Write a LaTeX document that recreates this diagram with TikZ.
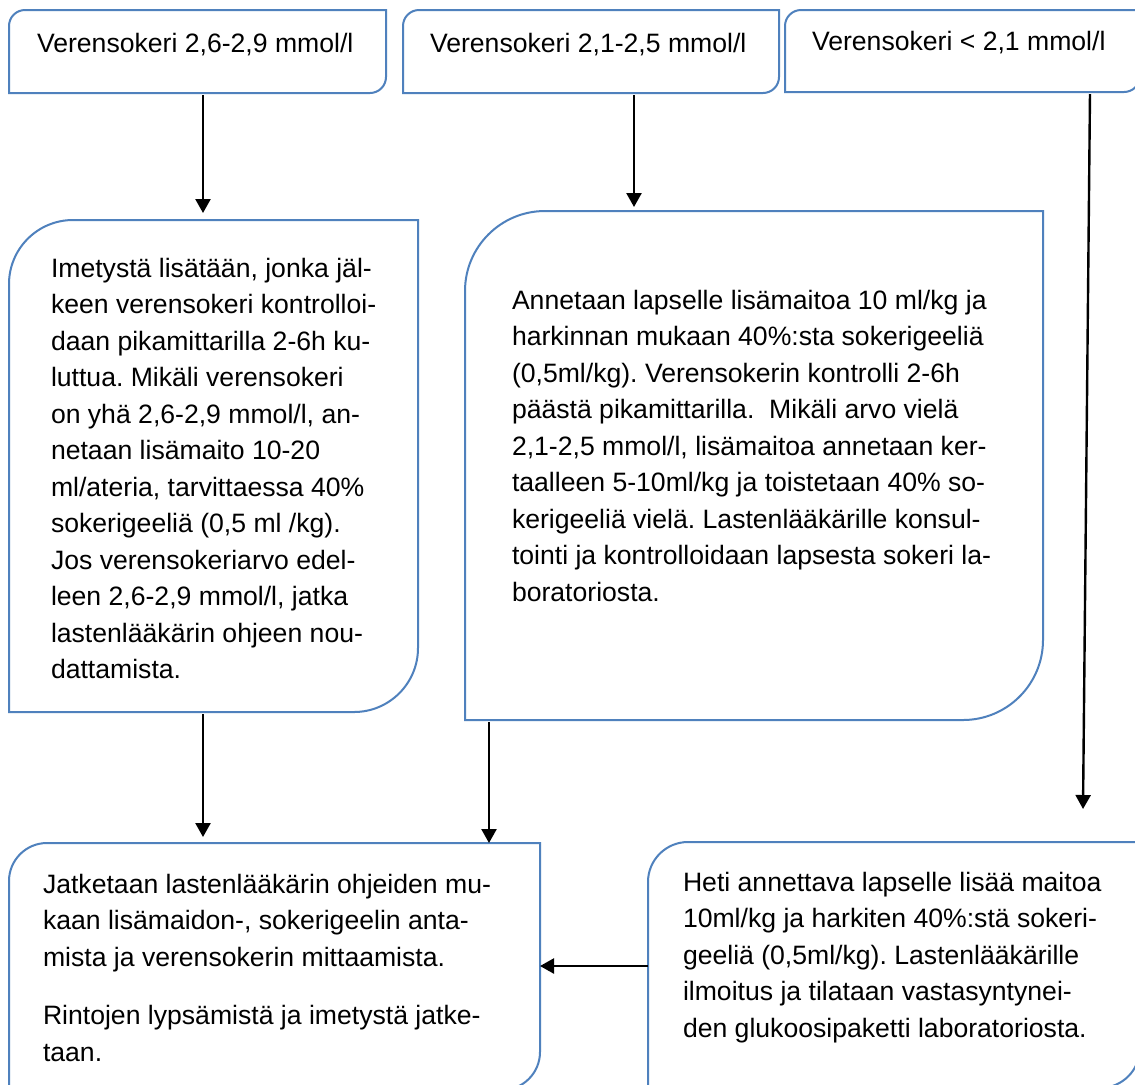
\documentclass[tikz,border=0pt]{standalone}
\usepackage{fontspec}
\setmainfont{Liberation Sans}
\usetikzlibrary{arrows.meta,fit,calc}
\definecolor{boxblue}{RGB}{79,129,189}
\tikzset{
  boxline/.style={draw=boxblue, line width=1pt},
  boxnode/.style={inner sep=0pt, outer sep=0pt, draw=none, rectangle},
  txt/.style={anchor=north west, inner sep=0pt, outer sep=0pt, align=left,
    font=\fontsize{13.3pt}{18.25pt}\selectfont\frenchspacing},
  arr/.style={draw=black, line width=1.2pt, -{Triangle[length=7pt,width=7.5pt]}},
}
\newcommand\dbox[2]{%
  \draw[boxline] (#1.south west) -- ([yshift=-#2]#1.north west)
    arc[start angle=180,end angle=90,radius=#2] -- (#1.north east)
    -- ([yshift=#2]#1.south east)
    arc[start angle=0,end angle=-90,radius=#2] -- cycle;}
\begin{document}
\frenchspacing
\begin{tikzpicture}[x=0.5pt,y=-0.5pt]
\useasboundingbox (0,0) rectangle (1135,1084);
\clip (0,0) rectangle (1135,1084);
\fill[white] (0,0) rectangle (1135,1084);

% box corners
\coordinate (b1nw) at (9,10);    \coordinate (b1se) at (386,93);
\coordinate (b2nw) at (403,10);  \coordinate (b2se) at (779,93);
\coordinate (b3nw) at (785,10);  \coordinate (b3se) at (1140,92);
\coordinate (b4nw) at (9,220);   \coordinate (b4se) at (418,712);
\coordinate (b5nw) at (465,211); \coordinate (b5se) at (1043,720);
\coordinate (b6nw) at (648,842); \coordinate (b6se) at (1140,1088);
\coordinate (b7nw) at (9,843);   \coordinate (b7se) at (540,1090);

\node[boxnode, fit=(b1nw)(b1se)] (b1) {};
\node[boxnode, fit=(b2nw)(b2se)] (b2) {};
\node[boxnode, fit=(b3nw)(b3se)] (b3) {};
\node[boxnode, fit=(b4nw)(b4se)] (b4) {};
\node[boxnode, fit=(b5nw)(b5se)] (b5) {};
\node[boxnode, fit=(b6nw)(b6se)] (b6) {};
\node[boxnode, fit=(b7nw)(b7se)] (b7) {};

\dbox{b1}{8pt}
\dbox{b2}{8pt}
\dbox{b3}{8pt}
\dbox{b4}{32pt}
\dbox{b5}{40pt}
\dbox{b6}{20pt}
\dbox{b7}{19pt}

% texts
\node[txt] (t1) at (37,33) {Verensokeri 2,6-2,9 mmol/l};
\node[txt] (t2) at (430,33) {Verensokeri 2,1-2,5 mmol/l};
\node[txt] (t3) at (812,31) {Verensokeri < 2,1 mmol/l};

\node[txt] (t4) at (51,258) {Imetystä lisätään, jonka jäl-\\
keen verensokeri kontrolloi-\\
daan pikamittarilla 2-6h ku-\\
luttua. Mikäli verensokeri\\
on yhä 2,6-2,9 mmol/l, an-\\
netaan lisämaito 10-20\\
ml/ateria, tarvittaessa 40\%\\
sokerigeeliä (0,5 ml /kg).\\
Jos verensokeriarvo edel-\\
leen 2,6-2,9 mmol/l, jatka\\
lastenlääkärin ohjeen nou-\\
dattamista.};

\node[txt] (t5) at (512,290) {Annetaan lapselle lisämaitoa 10 ml/kg ja\\
harkinnan mukaan 40\%:sta sokerigeeliä\\
(0,5ml/kg). Verensokerin kontrolli 2-6h\\
päästä pikamittarilla.\ \ Mikäli arvo vielä\\
2,1-2,5 mmol/l, lisämaitoa annetaan ker-\\
taalleen 5-10ml/kg ja toistetaan 40\% so-\\
kerigeeliä vielä. Lastenlääkärille konsul-\\
tointi ja kontrolloidaan lapsesta sokeri la-\\
boratoriosta.};

\node[txt] (t7) at (43,874) {Jatketaan lastenlääkärin ohjeiden mu-\\
kaan lisämaidon-, sokerigeelin anta-\\
mista ja verensokerin mittaamista.\\[11pt]
Rintojen lypsämistä ja imetystä jatke-\\
taan.};

\node[txt] (t6) at (683,872) {Heti annettava lapselle lisää maitoa\\
10ml/kg ja harkiten 40\%:stä sokeri-\\
geeliä (0,5ml/kg). Lastenlääkärille\\
ilmoitus ja tilataan vastasyntynei-\\
den glukoosipaketti laboratoriosta.};

% connectors
\coordinate (xa1) at (203,0);
\coordinate (xa2) at (634,0);
\coordinate (xa3) at (1090,0);
\coordinate (xa5) at (489,0);
\coordinate (ya6) at (0,966);
\coordinate (a3end) at (1083,809);

\draw[arr, shorten <=1pt, shorten >=3.5pt] (b1.south -| xa1) -- (b4.north -| xa1);
\draw[arr, shorten <=1pt, shorten >=2pt] (b2.south -| xa2) -- (b5.north -| xa2);
\draw[arr, shorten <=1pt] (b3.south -| xa3) -- (a3end);
\draw[arr, shorten <=1pt, shorten >=3pt] (b4.south -| xa1) -- (b7.north -| xa1);
\draw[arr, shorten <=1pt] (b5.south -| xa5) -- (b7.north -| xa5);
\draw[arr] (b6.west |- ya6) -- (b7.east |- ya6);
\end{tikzpicture}
\end{document}
